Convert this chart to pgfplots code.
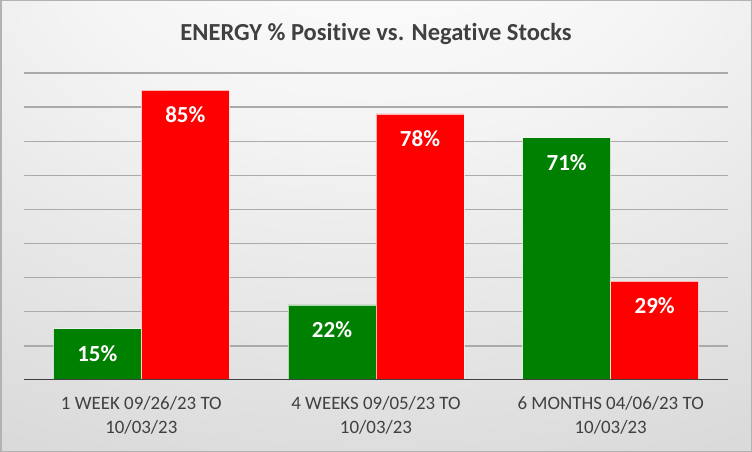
\documentclass[border=0pt]{standalone}
\usepackage{pgfplots}
\pgfplotsset{compat=1.18}
\usepackage{fontspec}
\setmainfont{Carlito}[Ligatures={NoCommon,NoContextual}]

\definecolor{posgreen}{RGB}{0,128,0}
\definecolor{negred}{RGB}{255,0,0}
\definecolor{txtgray}{RGB}{64,64,64}
\definecolor{gridc}{RGB}{170,170,170}
\definecolor{bgedge}{RGB}{196,196,196}
\definecolor{bgmid}{RGB}{218,218,218}

% background: light at the top middle, grey towards the corners
\pgfdeclareradialshading{chartbg}{\pgfpoint{0bp}{40bp}}{%
  color(0bp)=(white); color(20bp)=(white!96!black);
  color(50bp)=(bgmid); color(100bp)=(bgedge)}

\begin{document}
\begin{tikzpicture}
\shade[shading=chartbg] (0,0) rectangle (752bp,452bp);
\draw[gray!60, line width=1.5bp] (0.75bp,0.75bp) rectangle (751.25bp,451.25bp);
\node[font=\fontsize{24.5bp}{27bp}\selectfont\bfseries, text=txtgray]
  at (376bp,418bp) {ENERGY \% Positive vs. Negative Stocks};

\begin{axis}[
    at={(24bp,72bp)}, anchor=south west,
    scale only axis,
    width=704bp, height=307bp,
    xmin=-0.5, xmax=2.5,
    ymin=0, ymax=90,
    ybar,
    bar width=0.375,
    axis line style={draw=none},
    major tick length=0pt,
    /pgf/number format/assume math mode=true,
    xtick={0,1,2},
    xticklabels={{1 WEEK 09/26/23 TO\\10/03/23},
                 {4 WEEKS 09/05/23 TO\\10/03/23},
                 {6 MONTHS 04/06/23 TO\\10/03/23}},
    xticklabel style={align=center, text=txtgray, yshift=-13bp,
      font=\fontsize{18.9bp}{23.5bp}\selectfont},
    ytick={10,20,...,90},
    yticklabels={},
    ymajorgrids,
    grid style={gridc, line width=1.4bp},
    nodes near coords={\pgfmathprintnumber{\pgfplotspointmeta}\%},
    every node near coord/.append style={anchor=center, yshift=-24.5bp,
      text=white, font=\fontsize{23bp}{25bp}\selectfont\bfseries},
]
\addplot[fill=posgreen, draw=white, draw opacity=0.7, line width=0.8bp,
  bar shift=-0.1875] coordinates {(0,15) (1,22) (2,71)};
\addplot[fill=negred, draw=white, draw opacity=0.7, line width=0.8bp,
  bar shift=0.1875] coordinates {(0,85) (1,78) (2,29)};
\draw[txtgray, line width=2.4bp] (axis cs:-0.5,0) -- (axis cs:2.5,0);
\end{axis}
\end{tikzpicture}
\end{document}
